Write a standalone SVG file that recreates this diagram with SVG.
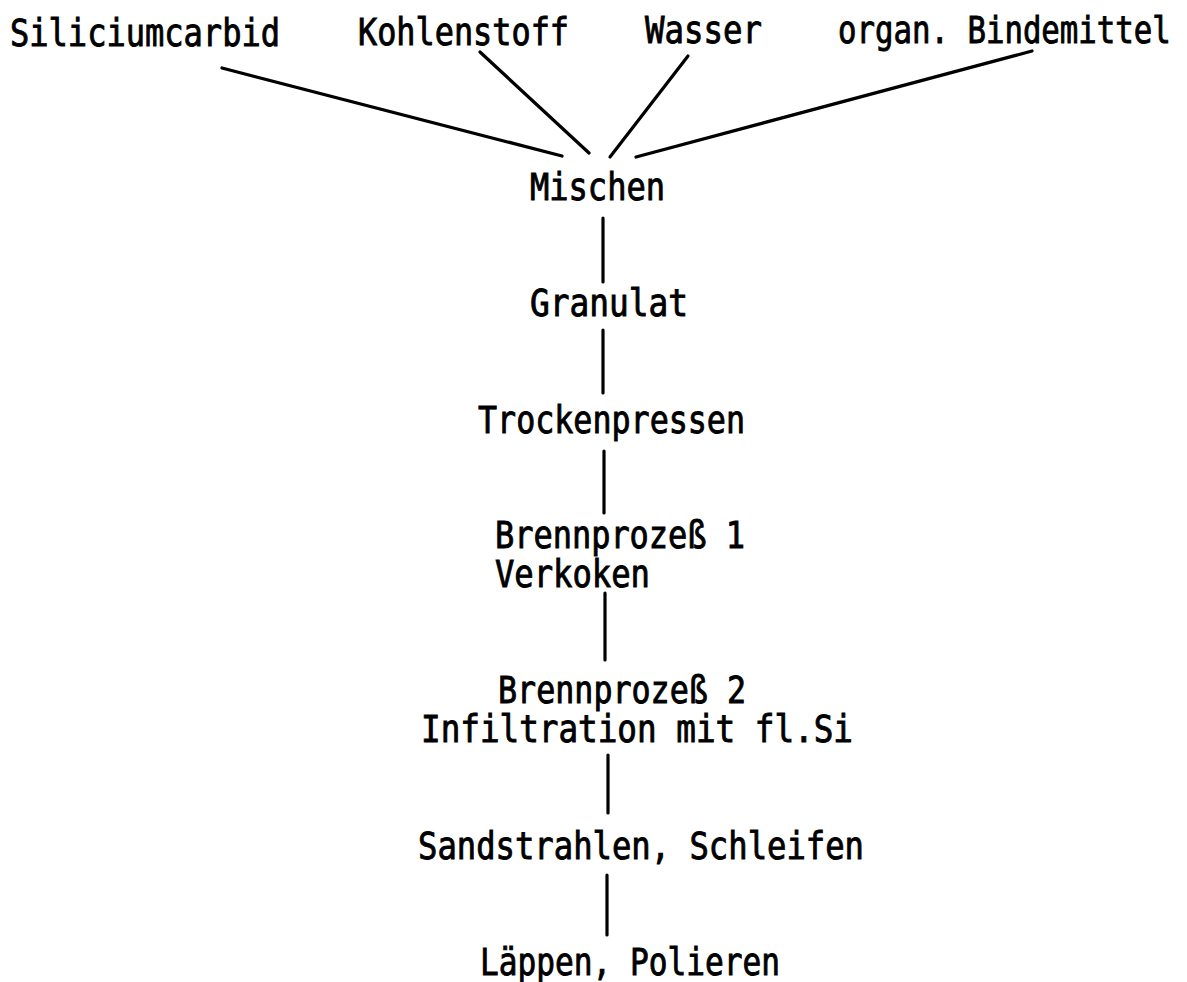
<svg xmlns="http://www.w3.org/2000/svg" width="1187" height="982" viewBox="0 0 1187 982">
<style>
text{font-family:"DejaVu Sans Mono","Liberation Mono",monospace;font-size:37px;fill:#000;stroke:#000;stroke-width:0.9}
.c line{stroke:#000;stroke-width:3.2;stroke-linecap:round}
</style>
<rect width="1187" height="982" fill="#fff"/>
<g id="n-sic"><text x="10" y="46" textLength="270" lengthAdjust="spacingAndGlyphs">Siliciumcarbid</text></g>
<g id="n-kohlenstoff"><text x="358" y="45" textLength="211" lengthAdjust="spacingAndGlyphs">Kohlenstoff</text></g>
<g id="n-wasser"><text x="645" y="43" textLength="117" lengthAdjust="spacingAndGlyphs">Wasser</text></g>
<g id="n-binder"><text transform="translate(838,43) scale(0.83,1)" x="0" y="0">organ. Bindemittel</text></g>
<g id="n-mischen"><text x="530" y="200" textLength="135" lengthAdjust="spacingAndGlyphs">Mischen</text></g>
<g id="n-granulat"><text x="530" y="316" textLength="158" lengthAdjust="spacingAndGlyphs">Granulat</text></g>
<g id="n-trocken"><text x="478" y="433" textLength="267" lengthAdjust="spacingAndGlyphs">Trockenpressen</text></g>
<g id="n-brenn1"><text x="495" y="548" textLength="250" lengthAdjust="spacingAndGlyphs">Brennprozeß 1</text><text x="495" y="587" textLength="155" lengthAdjust="spacingAndGlyphs">Verkoken</text></g>
<g id="n-brenn2"><text x="498" y="703" textLength="248" lengthAdjust="spacingAndGlyphs">Brennprozeß 2</text><text x="421" y="742" textLength="432" lengthAdjust="spacingAndGlyphs">Infiltration mit fl.Si</text></g>
<g id="n-sand"><text x="418" y="859" textLength="446" lengthAdjust="spacingAndGlyphs">Sandstrahlen, Schleifen</text></g>
<g id="n-laeppen"><text x="480" y="975" textLength="300" lengthAdjust="spacingAndGlyphs">Läppen, Polieren</text></g>
<g id="connectors" class="c">
<line x1="222" y1="68" x2="562" y2="156" stroke-width="4"/>
<line x1="480" y1="52" x2="589" y2="153"/>
<line x1="688" y1="56" x2="610" y2="157"/>
<line x1="1032" y1="51" x2="636" y2="157" stroke-width="4"/>
<line x1="603" y1="218" x2="603" y2="282"/>
<line x1="603" y1="330" x2="603" y2="393"/>
<line x1="604" y1="451" x2="604" y2="513"/>
<line x1="605" y1="593" x2="605" y2="660"/>
<line x1="608" y1="755" x2="608" y2="813"/>
<line x1="607" y1="875" x2="607" y2="935"/>
</g>
</svg>
